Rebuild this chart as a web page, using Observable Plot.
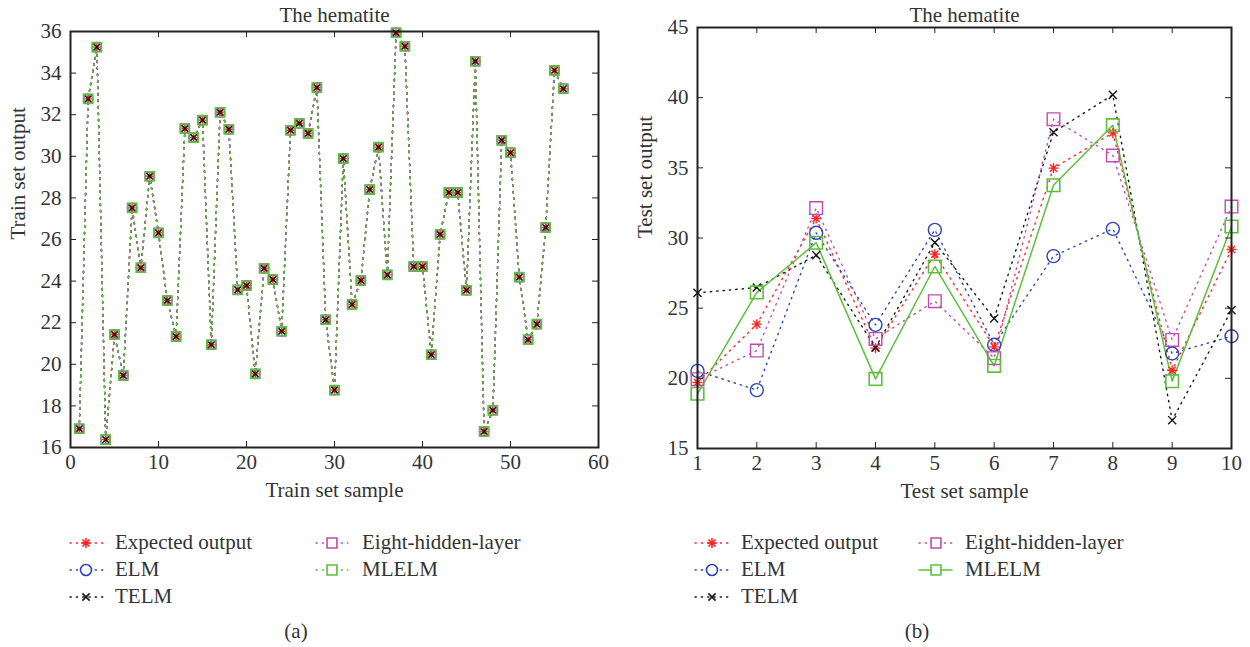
<!DOCTYPE html>
<html><head><meta charset="utf-8">
<script src="https://cdn.jsdelivr.net/npm/d3@7"></script>
<script src="https://cdn.jsdelivr.net/npm/@observablehq/plot@0.6"></script>
<style>
body{margin:0;background:#fff;width:1250px;height:647px;position:relative;overflow:hidden;font-family:"Liberation Serif",serif;color:#333}
.chart{position:absolute;top:0}
.item{position:absolute;height:20px}
.item svg{position:absolute;left:0;top:0;overflow:visible}
.item span{position:absolute;white-space:nowrap;font-size:21px;line-height:20px;top:-1px}
.cap{position:absolute;font-size:21px;transform:translateX(-50%)}
</style></head>
<body>
<div id="a" class="chart" style="left:0"></div>
<div id="b" class="chart" style="left:625px"></div>
<div id="legend"></div>
<script>
// ---------- data ----------
const seriesNames = ["Expected output", "ELM", "TELM", "Eight-hidden-layer", "MLELM"];
const seriesColors = ["#ff2424", "#2f45b5", "#151515", "#c04caf", "#5ebf3c"];

// (a) training set: all five models coincide with the expected output
const trainSample = d3.range(1, 57);
const trainOutput = [16.9, 32.76, 35.25, 16.38, 21.43, 19.46, 27.52, 24.64, 29.04, 26.32,
  23.07, 21.34, 31.34, 30.90, 31.74, 20.94, 32.12, 31.30, 23.58, 23.79,
  19.54, 24.62, 24.08, 21.59, 31.25, 31.59, 31.10, 33.31, 22.14, 18.76,
  29.89, 22.88, 24.03, 28.40, 30.44, 24.30, 35.94, 35.29, 24.70, 24.70,
  20.46, 26.25, 28.26, 28.26, 23.56, 34.57, 16.77, 17.79, 30.77, 30.17,
  24.19, 21.18, 21.93, 26.58, 34.13, 33.25];

// (b) test set
const testSample = [1, 2, 3, 4, 5, 6, 7, 8, 9, 10];
const testExpected = [19.70, 23.86, 31.39, 22.15, 28.85, 22.24, 34.98, 37.49, 20.58, 29.18];
const testELM      = [20.53, 19.16, 30.37, 23.81, 30.58, 22.39, 28.71, 30.65, 21.77, 23.00];
const testTELM     = [26.09, 26.47, 28.78, 22.20, 29.68, 24.26, 37.54, 40.20, 17.02, 24.86];
const testEight    = [19.94, 21.98, 32.13, 22.81, 25.50, 21.44, 38.47, 35.88, 22.74, 32.24];
const testMLELM    = [18.90, 26.12, 29.66, 19.96, 27.97, 20.89, 33.76, 38.04, 19.80, 30.82];

const trainXTicks = [0, 10, 20, 30, 40, 50, 60];
const trainYTicks = [16, 18, 20, 22, 24, 26, 28, 30, 32, 34, 36];
const testXTicks = [1, 2, 3, 4, 5, 6, 7, 8, 9, 10];
const testYTicks = [15, 20, 25, 30, 35, 40, 45];

// ---------- symbols ----------
const asterisk = {draw(ctx, size) {
  const r = Math.sqrt(size / Math.PI);
  for (let k = 0; k < 4; k++) {
    const a = k * Math.PI / 4, dx = r * Math.cos(a), dy = r * Math.sin(a);
    ctx.moveTo(-dx, -dy); ctx.lineTo(dx, dy);
  }
}};
const cross = {draw(ctx, size) {
  const r = Math.sqrt(size / Math.PI) * 0.72;
  ctx.moveTo(-r, -r); ctx.lineTo(r, r); ctx.moveTo(-r, r); ctx.lineTo(r, -r);
}};
const squareSym = {draw(ctx, size) {
  const s = Math.sqrt(size / Math.PI) * 0.9;
  ctx.moveTo(-s, -s); ctx.lineTo(s, -s); ctx.lineTo(s, s); ctx.lineTo(-s, s); ctx.closePath();
}};
const seriesSymbols = [asterisk, "circle", cross, squareSym, squareSym];

const font = "'Liberation Serif', serif";

function chart({W, H, mt, mr, mb, ml, xDomain, yDomain, xTicks, yTicks, series, title, titleDy, xLabel, yLabel, rs, dash, solidLast, lw}) {
  const iw = W - ml - mr, ih = H - mt - mb;
  const marks = [];
  series.forEach((s, i) => {
    const data = s.y.map((v, j) => ({x: s.x[j], y: v}));
    const solid = solidLast && i === 4;
    marks.push(Plot.line(data, {x: "x", y: "y", stroke: seriesColors[i], strokeWidth: solid ? 1.5 : lw,
      strokeDasharray: solid ? null : dash, strokeLinecap: "round"}));
  });
  series.forEach((s, i) => {
    const data = s.y.map((v, j) => ({x: s.x[j], y: v}));
    marks.push(Plot.dot(data, {x: "x", y: "y", symbol: seriesSymbols[i], r: rs[i], stroke: seriesColors[i],
      fill: "none", strokeWidth: i === 4 ? 1.6 : 1.4}));
  });
  marks.push(
    Plot.ruleX(xTicks, {x: d => d, insetTop: ih - 6, stroke: "#222"}),
    Plot.ruleX(xTicks, {x: d => d, insetBottom: ih - 6, stroke: "#222"}),
    Plot.ruleY(yTicks, {y: d => d, insetRight: iw - 6, stroke: "#222"}),
    Plot.ruleY(yTicks, {y: d => d, insetLeft: iw - 6, stroke: "#222"}),
    Plot.frame({stroke: "#222", strokeWidth: 2}),
    Plot.axisX(xTicks, {tickSize: 0, tickPadding: 7, fontSize: 21, label: null}),
    Plot.axisY(yTicks, {tickSize: 0, tickPadding: 9, fontSize: 21, label: null}),
    Plot.text([title], {text: d => d, frameAnchor: "top", lineAnchor: "bottom", dy: titleDy, fontSize: 21}),
    Plot.text([xLabel], {text: d => d, frameAnchor: "bottom", dy: 49, fontSize: 21}),
    Plot.text([yLabel], {text: d => d, frameAnchor: "left", dx: -52, rotate: -90, fontSize: 21})
  );
  return Plot.plot({
    width: W, height: H, marginTop: mt, marginRight: mr, marginBottom: mb, marginLeft: ml,
    x: {domain: xDomain}, y: {domain: yDomain},
    style: {fontFamily: font, fontSize: "21px", color: "#333", background: "transparent", overflow: "visible"},
    marks
  });
}

const trainSeries = seriesNames.map(() => ({x: trainSample, y: trainOutput}));
document.getElementById("a").append(chart({
  W: 625, H: 520, mt: 31, mr: 27, mb: 73, ml: 70,
  xDomain: [0, 60], yDomain: [16, 36], xTicks: trainXTicks, yTicks: trainYTicks,
  series: trainSeries, title: "The hematite", titleDy: -10, xLabel: "Train set sample", yLabel: "Train set output",
  rs: [3.6, 4.6, 4.2, 5, 5], dash: "1.5,5", lw: 1.4, solidLast: false
}));

const testSeries = [testExpected, testELM, testTELM, testEight, testMLELM].map(y => ({x: testSample, y}));
document.getElementById("b").append(chart({
  W: 625, H: 520, mt: 27, mr: 19, mb: 72, ml: 72,
  xDomain: [1, 10], yDomain: [15, 45], xTicks: testXTicks, yTicks: testYTicks,
  series: testSeries, title: "The hematite", titleDy: -6, xLabel: "Test set sample", yLabel: "Test set output",
  rs: [5, 6.5, 5.6, 7, 7], dash: "1.4,5", lw: 1.4, solidLast: true
}));

// ---------- legends ----------
const leg = d3.select("#legend");
function item(i, x0, x1, mx, tx, y, solid, r) {
  const g = leg.append("div").attr("class", "item").style("left", x0 + "px").style("top", (y - 10) + "px");
  const svg = g.append("svg").attr("width", x1 - x0).attr("height", 20);
  svg.append("line").attr("x1", 0).attr("x2", x1 - x0).attr("y1", 10).attr("y2", 10)
    .attr("stroke", seriesColors[i]).attr("stroke-width", solid ? 1.5 : 1.3)
    .attr("stroke-dasharray", solid ? null : "1.3,5").attr("stroke-linecap", "round");
  const sym = seriesSymbols[i];
  const path = d3.symbol(sym === "circle" ? d3.symbolCircle : sym, Math.PI * r * r)();
  svg.append("path").attr("d", path).attr("transform", `translate(${mx - x0},10)`)
    .attr("fill", "white").attr("stroke", seriesColors[i]).attr("stroke-width", 1.6);
  g.append("span").style("left", (tx - x0) + "px").text(seriesNames[i]);
}
const rows = [543, 570, 597];
// legend (a)
item(0, 70, 104, 86, 115, rows[0], false, 5);
item(1, 70, 104, 86, 115, rows[1], false, 5.5);
item(2, 70, 104, 86, 115, rows[2], false, 5);
item(3, 316, 348, 332, 362, rows[0], false, 5.5);
item(4, 316, 348, 332, 362, rows[1], false, 5.5);
// legend (b)
item(0, 695, 730, 712, 741, rows[0], false, 5);
item(1, 695, 730, 712, 741, rows[1], false, 5.5);
item(2, 695, 730, 712, 741, rows[2], false, 5);
item(3, 919, 952, 936, 965, rows[0], false, 5.5);
item(4, 919, 952, 936, 965, rows[1], true, 5.5);
leg.append("div").attr("class", "cap").style("left", "296px").style("top", "619px").text("(a)");
leg.append("div").attr("class", "cap").style("left", "917px").style("top", "619px").text("(b)");
</script>
</body></html>
